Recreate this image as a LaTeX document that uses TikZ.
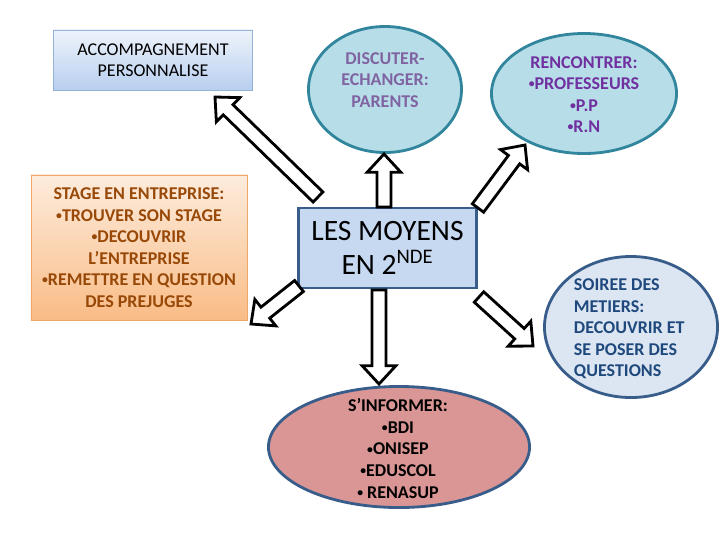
\documentclass[tikz,border=0pt]{standalone}
\usepackage{fontspec}
\setmainfont{Carlito}
\usepackage{xcolor}
\usetikzlibrary{shapes,calc}

\definecolor{acctop}{HTML}{EEF3FB}
\definecolor{accbot}{HTML}{B8CFEF}
\definecolor{accline}{HTML}{95B3D7}
\definecolor{stgtop}{HTML}{FDECDD}
\definecolor{stgbot}{HTML}{F9BC86}
\definecolor{stgline}{HTML}{F0A868}
\definecolor{stgtext}{HTML}{984807}
\definecolor{cyanfill}{HTML}{B7DEE8}
\definecolor{tealline}{HTML}{31859C}
\definecolor{moyfill}{HTML}{C6D9F1}
\definecolor{navyline}{HTML}{385D8A}
\definecolor{soifill}{HTML}{DCE6F2}
\definecolor{soitext}{HTML}{1F497D}
\definecolor{infofill}{HTML}{D99694}
\definecolor{lavtext}{HTML}{8064A2}
\definecolor{purtext}{HTML}{7030A0}

\newcommand{\bul}{\raisebox{0.22ex}{\scalebox{0.65}{•}}}

\begin{document}
\begin{tikzpicture}[x=0.025cm, y=-0.025cm,
      sq/.style={rectangle, draw, align=center, inner sep=2pt},
      oval/.style={ellipse, draw, line width=2pt, inner sep=0pt},
      lbl/.style={font=\fontsize{12.8}{15.3}\selectfont\bfseries, align=center},
      blockarrow/.style={draw=black, fill=white, line width=2pt, line join=miter,
        to path={($(\tikztostart)!5pt!90:(\tikztotarget)$)
          -- ($(\tikztotarget)!13pt!(\tikztostart)!5pt!-90:(\tikztostart)$)
          -- ($(\tikztotarget)!13pt!(\tikztostart)!12pt!-90:(\tikztostart)$)
          -- (\tikztotarget)
          -- ($(\tikztotarget)!13pt!(\tikztostart)!12pt!90:(\tikztostart)$)
          -- ($(\tikztotarget)!13pt!(\tikztostart)!5pt!90:(\tikztostart)$)
          -- ($(\tikztostart)!5pt!-90:(\tikztotarget)$) -- cycle}},
    ]
    \useasboundingbox (0,0) rectangle (720,540);

    % boxes on the left
    \node[sq, draw=accline, line width=0.6pt, top color=acctop, bottom color=accbot,
          minimum width=4.975cm, minimum height=1.5cm,
          font=\fontsize{12.8}{14.9}\selectfont] (accomp) at (153,60) {ACCOMPAGNEMENT\\PERSONNALISE};
    \node[sq, draw=stgline, line width=0.6pt, top color=stgtop, bottom color=stgbot,
          minimum width=5.4cm, minimum height=3.625cm, lbl, text=stgtext] (stage) at (139,247.5)
          {STAGE EN ENTREPRISE:\\\bul TROUVER SON STAGE\\\bul DECOUVRIR\\L’ENTREPRISE\\\bul REMETTRE EN QUESTION\\DES PREJUGES};

    % centre
    \node[sq, draw=navyline, line width=2pt, fill=moyfill, minimum width=4.45cm, minimum height=2cm,
          font=\fontsize{21}{24}\selectfont] (moyens) at (387.5,248) {LES MOYENS\\EN 2\textsuperscript{NDE}};

    % ellipses
    \node[oval, draw=tealline, fill=cyanfill, minimum width=3.825cm, minimum height=3.15cm] (discuter) at (385,89.5) {};
    \node[lbl, text=lavtext] (discuter-txt) at (385,80) {DISCUTER-\\ECHANGER:\\PARENTS};

    \node[oval, draw=tealline, fill=cyanfill, minimum width=4.625cm, minimum height=3cm] (rencontrer) at (584,93.5) {};
    \node[lbl, text=purtext] (rencontrer-txt) at (584,94.5) {RENCONTRER:\\\bul PROFESSEURS\\\bul P.P\\\bul R.N};

    \node[oval, draw=navyline, fill=soifill, minimum width=4.325cm, minimum height=3.525cm] (soiree) at (631,327) {};
    \node[lbl, text=soitext, align=left, anchor=west] (soiree-txt) at (569,329) {SOIREE DES\\METIERS:\\DECOUVRIR ET\\SE POSER DES\\QUESTIONS};

    \node[oval, draw=navyline, fill=infofill, minimum width=6.525cm, minimum height=3.025cm] (informer) at (399,447) {};
    \node[lbl] (informer-txt) at (398,448.5) {S’INFORMER:\\\bul BDI\\\bul ONISEP\\\bul EDUSCOL\\\bul\ RENASUP};

    % arrow ends
    \coordinate (a1) at (318,197);  \coordinate (a2) at (215,97);
    \coordinate (b1) at (384,207);  \coordinate (b2) at (384,154);
    \coordinate (c1) at (478,208);  \coordinate (c2) at (525,145);
    \coordinate (d1) at (299,286);  \coordinate (d2) at (251,324);
    \coordinate (e1) at (379,290);  \coordinate (e2) at (379,384);
    \coordinate (f1) at (479,297);  \coordinate (f2) at (533,346);

    \draw[blockarrow] (a1) to (a2);
    \draw[blockarrow] (b1) to (b2);
    \draw[blockarrow] (c1) to (c2);
    \draw[blockarrow] (d1) to (d2);
    \draw[blockarrow] (e1) to (e2);
    \draw[blockarrow] (f1) to (f2);
  \end{tikzpicture}
\end{document}
